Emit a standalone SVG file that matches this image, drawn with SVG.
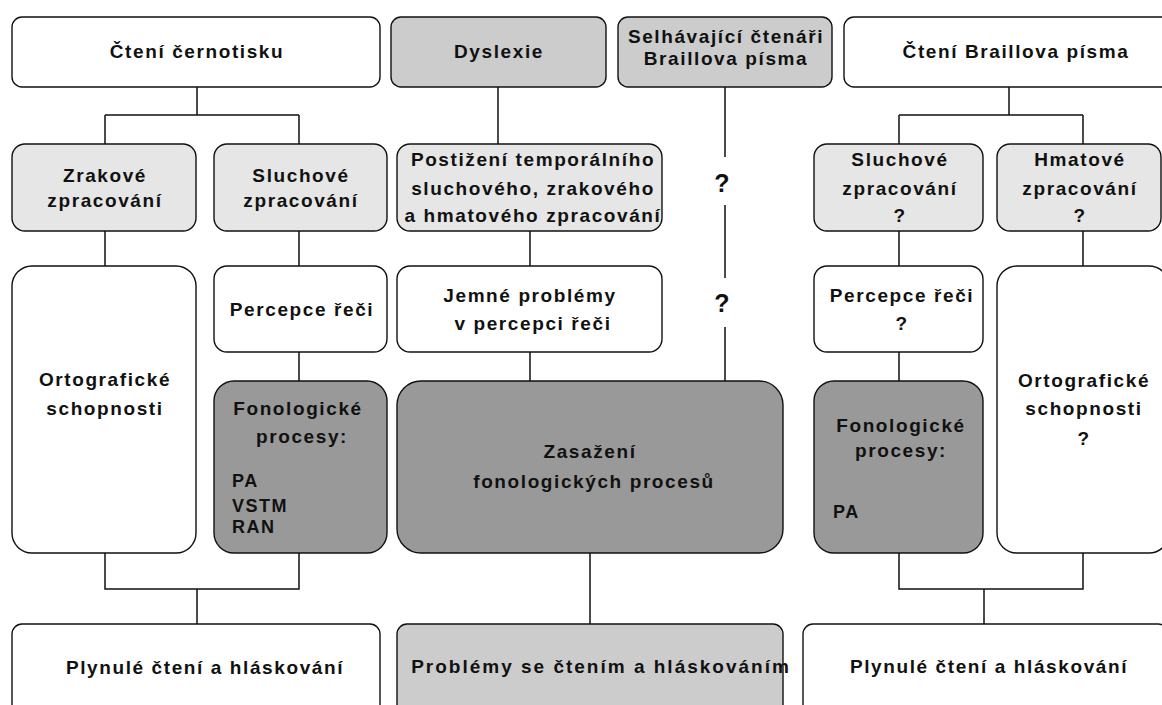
<svg xmlns="http://www.w3.org/2000/svg" width="1162" height="705" viewBox="0 0 1162 705">
<style>
.b{stroke:#111;stroke-width:1.4}
.w{fill:#fff}
.l{fill:#e6e6e6}
.m{fill:#cccccc}
.d{fill:#999999}
text{font-family:"Liberation Sans",Arial,sans-serif;font-weight:bold;font-size:19px;letter-spacing:1.6px;fill:#111;text-anchor:middle}
.s{letter-spacing:1.5px;text-anchor:start;font-size:18px}
.q{font-size:25px;letter-spacing:0}
#c path{fill:none;stroke:#111;stroke-width:1.5}
</style>
<rect width="1162" height="705" fill="#fff"/>
<g id="c">
<path d="M197,87V115M105,115H299M105,115V144M299,115V144"/>
<path d="M105,231V266M299,231V266M299,352V381"/>
<path d="M105,553V589H299V553M197,589V624"/>
<path d="M498,87V144M530,231V266M530,352V381M590,553V624"/>
<path d="M725,87V157M725,205V278M725,327V381"/>
<path d="M1009,87V115M899,115H1083M899,115V144M1083,115V144"/>
<path d="M899,231V266M1083,231V266M899,352V381"/>
<path d="M899,553V589H1083V553M984,589V624"/>
</g>
<g id="n1"><rect class="b w" x="12" y="17" width="368" height="70" rx="10"/><text x="197" y="58">Čtení černotisku</text></g>
<g id="n2"><rect class="b m" x="391" y="17" width="215" height="70" rx="10"/><text x="499" y="58">Dyslexie</text></g>
<g id="n3"><rect class="b m" x="618" y="17" width="214" height="70" rx="10"/><text x="726" y="43">Selhávající čtenáři</text><text x="726" y="65">Braillova písma</text></g>
<g id="n4"><rect class="b w" x="844" y="17" width="330" height="70" rx="10"/><text x="1016" y="58">Čtení Braillova písma</text></g>
<g id="n5"><rect class="b l" x="12" y="144" width="184" height="87" rx="13"/><text x="105" y="182">Zrakové</text><text x="105" y="207">zpracování</text></g>
<g id="n6"><rect class="b l" x="214" y="144" width="173" height="87" rx="13"/><text x="301" y="182">Sluchové</text><text x="301" y="207">zpracování</text></g>
<g id="n7"><rect class="b l" x="397" y="144" width="265" height="87" rx="13"/><text x="533" y="166">Postižení temporálního</text><text x="533" y="195">sluchového, zrakového</text><text x="533" y="222">a hmatového zpracování</text></g>
<g id="n8"><rect class="b l" x="814" y="144" width="169" height="87" rx="13"/><text x="900" y="166">Sluchové</text><text x="900" y="195">zpracování</text><text x="900" y="222">?</text></g>
<g id="n9"><rect class="b l" x="997" y="144" width="164" height="87" rx="13"/><text x="1080" y="166">Hmatové</text><text x="1080" y="195">zpracování</text><text x="1080" y="222">?</text></g>
<g id="n10"><rect class="b w" x="12" y="266" width="184" height="287" rx="20"/><text x="105" y="386">Ortografické</text><text x="105" y="415">schopnosti</text></g>
<g id="n11"><rect class="b w" x="214" y="266" width="173" height="86" rx="13"/><text x="302" y="316">Percepce řeči</text></g>
<g id="n12"><rect class="b d" x="214" y="381" width="173" height="172" rx="20"/><text x="298" y="415">Fonologické</text><text x="302" y="443">procesy:</text><text class="s" x="232" y="487">PA</text><text class="s" x="232" y="512">VSTM</text><text class="s" x="232" y="533">RAN</text></g>
<g id="n13"><rect class="b w" x="397" y="266" width="265" height="86" rx="13"/><text x="530" y="302">Jemné problémy</text><text x="533" y="330">v percepci řeči</text></g>
<g id="n14"><rect class="b d" x="397" y="381" width="386" height="172" rx="24"/><text x="590" y="458">Zasažení</text><text x="594" y="488">fonologických procesů</text></g>
<g id="n15"><rect class="b w" x="814" y="266" width="169" height="86" rx="13"/><text x="902" y="302">Percepce řeči</text><text x="902" y="330">?</text></g>
<g id="n16"><rect class="b d" x="814" y="381" width="169" height="172" rx="20"/><text x="901" y="432">Fonologické</text><text x="901" y="457">procesy:</text><text class="s" x="833" y="518">PA</text></g>
<g id="n17"><rect class="b w" x="997" y="266" width="172" height="287" rx="20"/><text x="1084" y="387">Ortografické</text><text x="1084" y="415">schopnosti</text><text x="1084" y="445">?</text></g>
<g id="n18"><rect class="b w" x="12" y="624" width="368" height="100" rx="10"/><text x="205" y="674">Plynulé čtení a hláskování</text></g>
<g id="n19"><rect class="b m" x="397" y="624" width="386" height="100" rx="10"/><text x="601" y="673" style="letter-spacing:2px">Problémy se čtením a hláskováním</text></g>
<g id="n20"><rect class="b w" x="803" y="624" width="365" height="100" rx="10"/><text x="989" y="673">Plynulé čtení a hláskování</text></g>
<g id="q"><text class="q" x="722" y="192">?</text><text class="q" x="722" y="312">?</text></g>
</svg>
